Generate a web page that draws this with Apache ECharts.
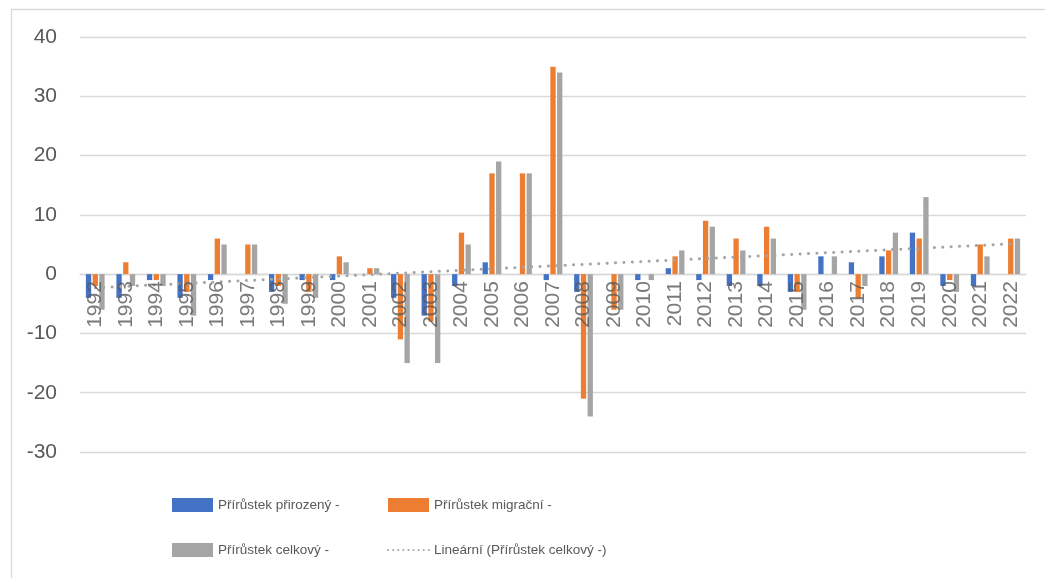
<!DOCTYPE html>
<html>
<head>
<meta charset="utf-8">
<script src="https://cdn.jsdelivr.net/npm/echarts@6/dist/echarts.min.js"></script>
<style>
  html, body { margin: 0; padding: 0; background: #fff; }
  #chart { width: 1045px; height: 578px; }
</style>
</head>
<body>
<div id="chart"></div>
<script>
// roky
var years = ['1992', '1993', '1994', '1995', '1996', '1997', '1998', '1999', '2000', '2001',
  '2002', '2003', '2004', '2005', '2006', '2007', '2008', '2009', '2010', '2011',
  '2012', '2013', '2014', '2015', '2016', '2017', '2018', '2019', '2020', '2021', '2022'];

var prirozeny = [-4, -4, -1, -4, -1, 0, -3, -1, -1, 0,
  -4, -7, -2, 2, 0, -1, -3, 0, -1, 1,
  -1, -2, -2, -3, 3, 2, 3, 7, -2, -2, 0];

var migracni = [-2, 2, -1, -3, 6, 5, -2, -3, 3, 1,
  -11, -8, 7, 17, 17, 35, -21, -6, 0, 3,
  9, 6, 8, -3, 0, -4, 4, 6, -1, 5, 6];

var celkovy = [-6, -2, -2, -7, 5, 5, -5, -4, 2, 1,
  -15, -15, 5, 19, 17, 34, -24, -6, -1, 4,
  8, 4, 6, -6, 3, -2, 7, 13, -3, 3, 6];

// linearni trend (zacatek a konec)
var trendStart = -2.3;
var trendEnd = 5.1;

var yTicks = [-30, -20, -10, 0, 10, 20, 30, 40];

var trend = years.map(function (y, i) {
  if (i === 0) return trendStart;
  if (i === years.length - 1) return trendEnd;
  return null;
});

var chart = echarts.init(document.getElementById('chart'));
var textColor = '#595959';
var gridColor = '#d9d9d9';
var axisFont = '"Liberation Sans", Arial, sans-serif';
var legendText = { color: textColor, fontSize: 13.5, lineHeight: 14, fontFamily: axisFont };

var option = {
  animation: false,
  graphic: [{
    type: 'rect',
    left: 9, top: 7,
    shape: { width: 1100, height: 640 },
    style: { fill: 'none', stroke: gridColor, lineWidth: 1.3 },
    silent: true
  }],
  grid: { left: 80, right: 19, top: 37, bottom: 126, containLabel: false },
  legend: [{
    orient: 'vertical',
    left: 172, top: 498, padding: 0,
    itemWidth: 41, itemHeight: 14, itemGap: 31,
    icon: 'rect',
    textStyle: legendText,
    data: ['Přírůstek přirozený -', 'Přírůstek celkový -']
  }, {
    orient: 'vertical',
    left: 387, top: 498, padding: 0,
    itemWidth: 41, itemHeight: 14, itemGap: 31,
    textStyle: legendText,
    data: [
      { name: 'Přírůstek migrační -', icon: 'rect' },
      { name: 'Lineární (Přírůstek celkový -)', itemStyle: { opacity: 0 }, lineStyle: { width: 2, type: [0.1, 5], cap: 'round' } }
    ]
  }],
  xAxis: {
    type: 'category',
    data: years,
    axisLine: { onZero: true, lineStyle: { color: gridColor, width: 1.3 } },
    axisTick: { show: false },
    axisLabel: { show: false }
  },
  yAxis: {
    type: 'value',
    min: yTicks[0],
    max: yTicks[yTicks.length - 1],
    interval: 10,
    axisLine: { show: false },
    axisTick: { show: false },
    splitLine: { lineStyle: { color: gridColor, width: 1.3 } },
    axisLabel: { margin: 23, color: textColor, fontSize: 21, fontFamily: axisFont }
  },
  series: [{
    name: 'Přírůstek přirozený -',
    type: 'bar',
    data: prirozeny,
    barWidth: 5.3,
    barGap: '27%',
    itemStyle: { color: '#4472c4' }
  }, {
    name: 'Přírůstek migrační -',
    type: 'bar',
    data: migracni,
    barWidth: 5.3,
    barGap: '27%',
    itemStyle: { color: '#ed7d31' }
  }, {
    name: 'Přírůstek celkový -',
    type: 'bar',
    data: celkovy,
    barWidth: 5.3,
    barGap: '27%',
    itemStyle: { color: '#a5a5a5' }
  }, {
    name: 'Lineární (Přírůstek celkový -)',
    type: 'line',
    data: trend,
    connectNulls: true,
    symbol: 'none',
    z: 5,
    lineStyle: { color: '#a5a5a5', width: 3, type: [0.1, 8.3], cap: 'round' },
    itemStyle: { color: '#a5a5a5' }
  }, {
    // popisky roku u nulove osy
    name: 'roky',
    type: 'scatter',
    data: years.map(function (y) { return [y, 0]; }),
    symbolSize: 0,
    z: 10,
    silent: true,
    label: {
      show: true,
      position: 'bottom',
      distance: 7,
      rotate: 90,
      align: 'right',
      verticalAlign: 'middle',
      formatter: function (p) { return p.value[0]; },
      color: textColor,
      fontSize: 21,
      fontFamily: axisFont
    }
  }]
};

chart.setOption(option);
</script>
</body>
</html>
